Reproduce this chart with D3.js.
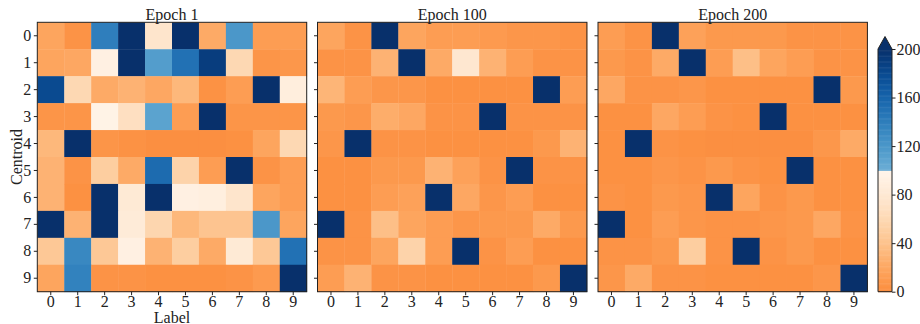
<!DOCTYPE html>
<html>
<head>
<meta charset="utf-8">
<script src="https://cdn.jsdelivr.net/npm/d3@7"></script>
<style>
  body { margin: 0; background: #fff; }
</style>
</head>
<body>
<div id="chart"></div>
<script>
var labels = [0, 1, 2, 3, 4, 5, 6, 7, 8, 9];
var titles = ["Epoch 1", "Epoch 100", "Epoch 200"];
var cbarTicks = [0, 40, 80, 120, 160, 200];

// rows = centroid, cols = label
var epoch1 = [
  [18, 5, 140, 205, 75, 205, 22, 120, 12, 12],
  [18, 20, 92, 205, 115, 150, 190, 60, 6, 8],
  [180, 60, 22, 28, 20, 32, 4, 12, 205, 88],
  [6, 6, 96, 68, 110, 12, 205, 6, 6, 6],
  [32, 205, 6, 4, 2, 2, 2, 3, 18, 60],
  [28, 5, 50, 22, 155, 55, 12, 205, 5, 12],
  [28, 3, 205, 82, 205, 92, 90, 75, 18, 12],
  [205, 28, 205, 84, 58, 32, 42, 42, 120, 18],
  [45, 132, 45, 92, 28, 50, 22, 82, 45, 150],
  [18, 137, 5, 5, 3, 3, 3, 5, 10, 205]
];
var epoch100 = [
  [18, 5, 205, 18, 12, 12, 10, 7, 7, 5],
  [5, 5, 28, 205, 22, 78, 28, 12, 5, 5],
  [30, 12, 7, 7, 3, 3, 3, 3, 205, 12],
  [9, 7, 24, 20, 5, 5, 205, 5, 5, 5],
  [7, 205, 5, 5, 3, 3, 3, 3, 9, 28],
  [3, 3, 9, 9, 28, 15, 5, 205, 5, 5],
  [3, 3, 12, 15, 205, 20, 7, 12, 3, 3],
  [205, 5, 38, 18, 12, 7, 9, 9, 22, 9],
  [5, 5, 18, 55, 12, 205, 5, 12, 3, 3],
  [12, 28, 5, 5, 3, 3, 3, 3, 9, 205]
];
var epoch200 = [
  [12, 5, 205, 15, 9, 9, 9, 5, 5, 5],
  [9, 5, 22, 205, 12, 38, 18, 12, 5, 5],
  [20, 5, 5, 7, 3, 3, 3, 3, 205, 9],
  [3, 3, 20, 12, 5, 3, 205, 3, 3, 3],
  [3, 205, 5, 3, 2, 2, 2, 2, 8, 22],
  [3, 3, 7, 5, 9, 5, 3, 205, 3, 3],
  [5, 3, 9, 7, 205, 18, 5, 9, 3, 3],
  [205, 3, 12, 7, 5, 5, 7, 9, 20, 5],
  [5, 5, 9, 50, 5, 205, 5, 9, 3, 3],
  [7, 22, 5, 5, 3, 3, 3, 3, 7, 205]
];
var matrices = [epoch1, epoch100, epoch200];

var width = 920, height = 324;
var panelLeft = [37.3, 317.5, 598],
    panelTop = 22.3,
    size = 269.4;
var FONT = "'Liberation Serif', 'DejaVu Serif', serif",
    FS = "16px",
    INK = "#222";

// orange (0) -> cream (100) | light blue (100) -> dark blue (200)
function color(v){
    if (v < 100) return d3.interpolateOranges(0.5 - 0.5 * Math.max(0, v) / 100);
    return d3.interpolateBlues(0.5 + 0.5 * (Math.min(v, 200) - 100) / 100);
}

function styleText(sel){
    sel.attr("font-family", FONT)
        .style("font-family", FONT)
        .style("font-size", FS)
        .attr("fill", INK);
}

var svg = d3.select("#chart").append("svg")
    .attr("width", width).attr("height", height);

var x = d3.scaleBand().domain(labels).range([0, size]);
var y = d3.scaleBand().domain(labels).range([0, size]);

matrices.forEach(function(m, k){
    var g = svg.append("g")
        .attr("transform", "translate(" + panelLeft[k] + "," + panelTop + ")");

    var cells = [];
    m.forEach(function(row, i){
        row.forEach(function(v, j){ cells.push({r: i, c: j, v: v}); });
    });

    g.selectAll("rect.cell").data(cells).enter().append("rect")
        .attr("class", "cell")
        .attr("x", d => x(d.c))
        .attr("y", d => y(d.r))
        .attr("width", x.bandwidth() + 0.4)
        .attr("height", y.bandwidth() + 0.4)
        .attr("fill", d => color(d.v));

    g.append("rect")
        .attr("width", size).attr("height", size)
        .attr("fill", "none").attr("stroke", INK).attr("stroke-width", 1);

    var xAxis = g.append("g")
        .attr("transform", "translate(0," + size + ")")
        .call(d3.axisBottom(x).tickSize(3.5).tickPadding(0.5));
    var yAxis = g.append("g")
        .call(d3.axisLeft(y).tickSize(3.5).tickPadding(2.5)
            .tickFormat(k === 0 ? null : ""));
    [xAxis, yAxis].forEach(function(a){
        a.attr("font-family", null).attr("font-size", null);
        a.select(".domain").remove();
        a.selectAll(".tick line").attr("stroke", INK);
        a.selectAll(".tick text").call(styleText);
    });

    g.append("text")
        .attr("x", size / 2).attr("y", -2.5)
        .attr("text-anchor", "middle")
        .call(styleText)
        .text(titles[k]);
});

svg.append("text")
    .attr("x", panelLeft[0] + size / 2).attr("y", 322.5)
    .attr("text-anchor", "middle")
    .call(styleText)
    .text("Label");

svg.append("text")
    .attr("transform", "translate(21.5," + (panelTop + size / 2) + ") rotate(-90)")
    .attr("text-anchor", "middle")
    .call(styleText)
    .text("Centroid");

// colorbar
var cbX = 878, cbW = 14, cbTop = 49, cbBottom = 291.7;
var cScale = d3.scaleLinear().domain([0, 200]).range([cbBottom, cbTop]);
var cb = svg.append("g").attr("transform", "translate(" + cbX + ",0)");

var steps = d3.range(0, 200, 1);
cb.selectAll("rect.step").data(steps).enter().append("rect")
    .attr("class", "step")
    .attr("x", 0)
    .attr("y", d => cScale(d + 1))
    .attr("width", cbW)
    .attr("height", d => cScale(d) - cScale(d + 1) + 0.5)
    .attr("fill", d => color(d + 0.5));

cb.append("path")
    .attr("d", "M0," + cbTop + "L" + (cbW / 2) + "," + (cbTop - 12.5) + "L" + cbW + "," + cbTop + "Z")
    .attr("fill", color(200));

cb.append("path")
    .attr("d", "M0," + cbBottom + "V" + cbTop + "L" + (cbW / 2) + "," + (cbTop - 12.5) +
        "L" + cbW + "," + cbTop + "V" + cbBottom + "Z")
    .attr("fill", "none").attr("stroke", INK).attr("stroke-width", 1);

var cAxis = cb.append("g")
    .attr("transform", "translate(" + cbW + ",0)")
    .call(d3.axisRight(cScale).tickValues(cbarTicks).tickSize(3.5).tickPadding(1));
cAxis.attr("font-family", null).attr("font-size", null);
cAxis.select(".domain").remove();
cAxis.selectAll(".tick line").attr("stroke", INK);
cAxis.selectAll(".tick text").call(styleText);
</script>
</body>
</html>
